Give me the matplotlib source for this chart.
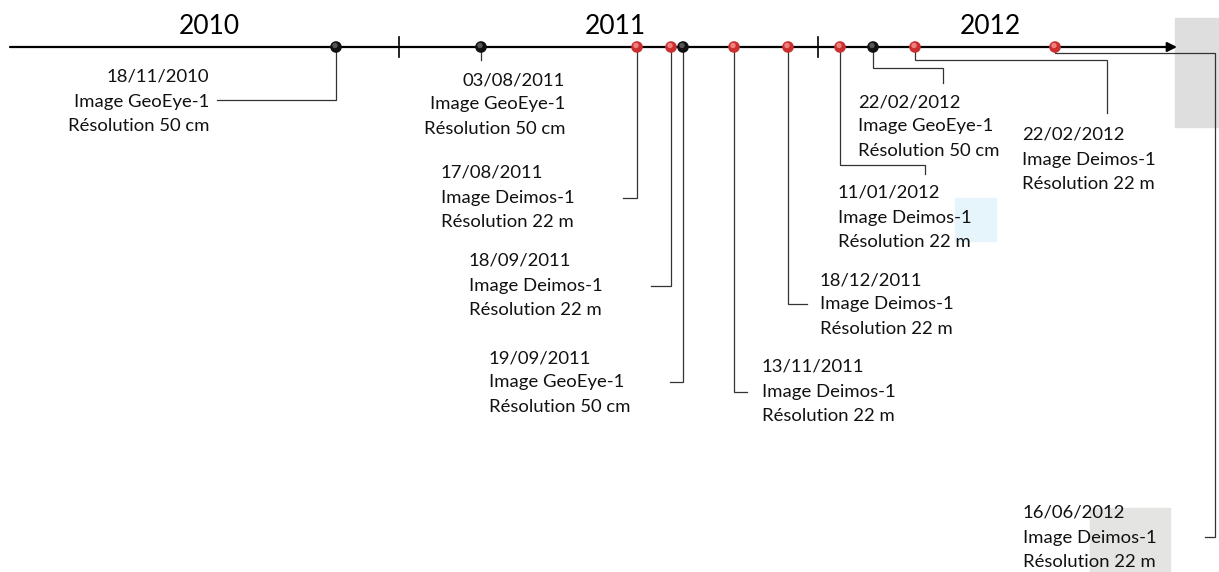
import matplotlib.pyplot as plt
from matplotlib.patches import Rectangle

plt.rcParams['font.family'] = ['Lato', 'DejaVu Sans']

# Acquisitions d'images (chronologie)
dates = ["18/11/2010", "03/08/2011", "17/08/2011", "18/09/2011", "19/09/2011",
         "13/11/2011", "18/12/2011", "11/01/2012", "22/02/2012", "22/02/2012",
         "16/06/2012"]
capteurs = ["GeoEye-1", "GeoEye-1", "Deimos-1", "Deimos-1", "GeoEye-1",
            "Deimos-1", "Deimos-1", "Deimos-1", "GeoEye-1", "Deimos-1",
            "Deimos-1"]
resolutions = ["50 cm", "50 cm", "22 m", "22 m", "50 cm",
               "22 m", "22 m", "22 m", "50 cm", "22 m", "22 m"]
annees = ["2010", "2011", "2012"]

# position schématique de chaque date sur la frise (pixels)
pos_frise = [336, 481, 637, 671, 683, 734, 788, 840, 873, 915, 1055]
pos_annees = [209, 615, 990]
separateurs = [399, 818]
Y0 = 47

# connecteurs : points après le marqueur, puis ancre du texte (x, y 1re ligne, ha)
connecteurs = [
    [(336, 100), (217, 100)],
    [(481, 60)],
    [(637, 198), (623, 198)],
    [(671, 286), (651, 286)],
    [(683, 382), (670, 382)],
    [(734, 392), (747, 392)],
    [(788, 304), (807, 304)],
    [(840, 165), (925, 165), (925, 174)],
    [(873, 68), (943, 68), (943, 83)],
    [(915, 60), (1107, 60), (1107, 113)],
    [(1055, 53), (1215, 53), (1215, 537), (1205, 537)],
]
ancres = [(209, 77, 'right'), (565, 80, 'right'), (441, 173, 'left'),
          (469, 261, 'left'), (489, 358, 'left'), (762, 367, 'left'),
          (820, 280, 'left'), (838, 193, 'left'), (858, 102, 'left'),
          (1022, 135, 'left'), (1023, 513, 'left')]
interligne = 24.5

couleurs = {"GeoEye-1": ("#111111", "#555555"), "Deimos-1": ("#cc2f2f", "#ee8080")}

fig = plt.figure(figsize=(12.19, 5.72), dpi=100)
ax = fig.add_axes([0, 0, 1, 1])
ax.set_xlim(0, 1219)
ax.set_ylim(572, 0)
ax.axis('off')

# zones grisées / bleutées (restes de capture)
ax.add_patch(Rectangle((1175, 18), 44, 109, color="#dedede", zorder=0))
ax.add_patch(Rectangle((955, 198), 41, 43, color="#e6f4fb", zorder=0))
ax.add_patch(Rectangle((1090, 508), 80, 64, color="#e4e4e2", zorder=0))

# frise
ax.annotate('', xy=(1177, Y0), xytext=(10, Y0),
            arrowprops=dict(arrowstyle='-|>', lw=1.6, color='black',
                            mutation_scale=14, shrinkA=0, shrinkB=0), zorder=2)
for s in separateurs:
    ax.plot([s, s], [Y0 - 10, Y0 + 10], color='black', lw=1.2, zorder=2)
for a, xa in zip(annees, pos_annees):
    ax.text(xa, 26, a, fontsize=19, ha='center', va='center')

for i, d in enumerate(dates):
    x = pos_frise[i]
    pts = [(x, Y0)] + connecteurs[i]
    ax.plot([p[0] for p in pts], [p[1] for p in pts], color='#333333',
            lw=0.9, zorder=1, solid_joinstyle='miter')
    c, h = couleurs[capteurs[i]]
    ax.scatter([x], [Y0], s=70, color=c, zorder=3, edgecolors='none')
    ax.scatter([x - 1], [Y0 - 1.5], s=15, color=h, zorder=4, edgecolors='none')
    lignes = [d, "Image " + capteurs[i], "Résolution " + resolutions[i]]
    tx, ty, ha = ancres[i]
    for k, l in enumerate(lignes):
        ax.text(tx, ty + k * interligne, l, fontsize=13.3, ha=ha, va='center',
                color='#111111')

fig.savefig('out.png', dpi=100)
